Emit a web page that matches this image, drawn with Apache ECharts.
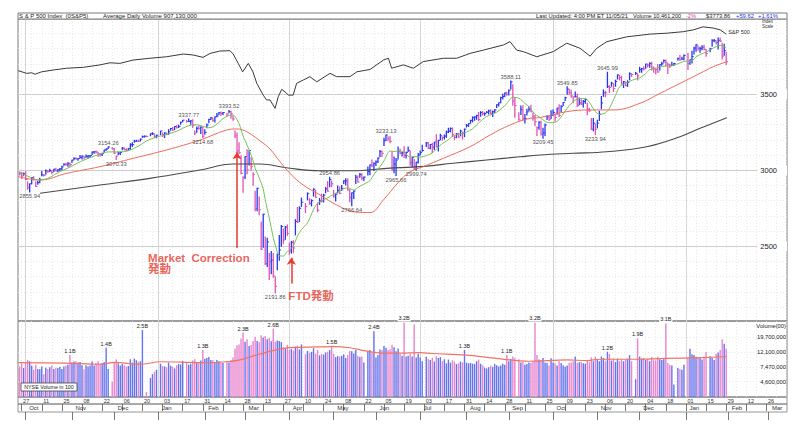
<!DOCTYPE html>
<html><head><meta charset="utf-8">
<script src="https://cdn.jsdelivr.net/npm/echarts@6/dist/echarts.min.js"></script>
<style>html,body{margin:0;padding:0;background:#fff}#c{width:800px;height:431px}</style>
</head><body><div id="c"></div>
<script>
// ---- daily bars, one entry per weekday slot from 2019-09-26 (slot -1); null = market holiday ----
const FIRST_SLOT = -1;
const hi = [
 2989,2987,2983,
 2992,2924,2911,2953,2959,2926,2929,2948,2993,2973,3003,2997,3008,3000,3007,3014,3005,3012,3027,3044,3047,3050,3047,
 3066,3084,3083,3078,3098,3094,3088,3102,3098,3098,3121,3124,3128,3119,3112,3113,3133,3142,3154.26,null,3150,
 3144,3094,3120,3119,3150,3148,3142,3143,3176,3182,3198,3198,3199,3206,3226,3227,3226,null,3240,3248,3240,3231,
 null,3258,3246,3247,3245,3268,3275,3283,3288,3295,3298,3317,3329,null,3329,3337.77,3326,3334,3259,3285,3293,3285,3282,
 3268,3306,3337,3347,3341,3352,3375,3381,3385,3381,null,3375,3393.52,3389,3360,3259,3246,3182,3097,2959,
 3090,3136,3130,3083,2985,2863,2882,2825,2660,2711,2562,2553,2453,2466,2453,2300,2450,2571,2637,2615,2631,2641,
 2522,2533,2538,2676,2756,2760,2818,null,2782,2852,2815,2807,2879,2868,2785,2815,2844,2842,2887,2926,2954.86,2930,
 2869,2844,2898,2891,2901,2932,2945,2945,2875,2852,2865,2968,2964,2980,2978,2956,null,3022,3036,3068,3050,
 3062,3081,3131,3128,3211,3233.13,3222,3223,3123,3088,3079,3154,3141,3120,3155,3120,3154,3128,3084,3073,3053,3111,
 3128,3165,null,3183,3184,3171,3179,3186,3235,3199,3238,3220,3233,3258,3277,3279,3279,3227,3242,3243,3264,3250,3272,
 3302,3307,3330,3351,3352,3363,3381,3387,3387,3378,3387,3395,3399,3390,3399,3432,3444,3481,3501,3509,3514,
 3529,3588.11,3564,3479,null,3379,3424,3425,3368,3402,3419,3428,3376,3362,3285,3320,3323,3278,3306,3360,3357,3393,
 3397,3369,3409,3432,3426,3447,3482,3549.85,3534,3527,3485,3515,3502,3476,3465,3460,3466,3441,3409,3342,3342,3305,
 3330,3389,3486,3529,3521,3645.99,3557,3580,3569,3593,3628,3624,3619,3585,3582,3590,3642,3635,null,3644,3634,
 3678,3670,3682,3699,3698,3708,3712,3681,3665,3697,3695,3711,3726,3726,3703,3698,3711,3703,null,3740,3756,3744,3760,
 null,3770,3726,3784,3811,3826,3819,3810,3820,3823,3796,null,3804,3859,3861,3852,3871,3871,3837,3830,3778
];
const lo = [
 2969,2945,2967,
 2938,2874,2855.94,2911,2935,2892,2907,2917,2963,2962,2973,2986,2991,2976,2992,2995,2991,2998,3001,3033,3032,3026,3023,
 3051,3068,3072,3065,3080,3074,3074,3085,3078,3083,3104,3112,3113,3091,3094,3097,3117,3131,3143,null,3139,
 3110,3070.33,3102,3103,3134,3135,3126,3133,3138,3156,3184,3191,3191,3192,3216,3218,3220,null,3227,3235,3216,3213,
 null,3235,3222,3215,3233,3236,3263,3262,3268,3277,3281,3303,3319,null,3316,3320,3302,3281,3235,3250,3271,3242,3214.68,
 3236,3280,3313,3334,3322,3317,3352,3366,3360,3366,null,3355,3378,3341,3328,3214,3118,3108,2977,2855,
 2945,2976,3035,2999,2901,2734,2734,2707,2478,2493,2380,2367,2281,2319,2295,2191.86,2345,2407,2500,2520,2545,2571,
 2447,2455,2460,2574,2657,2663,2762,null,2721,2805,2776,2765,2830,2821,2727,2775,2791,2791,2852,2862,2891,2892,
 2822,2798,2852,2847,2867,2913,2903,2869,2793,2766.64,2814,2913,2922,2953,2938,2933,null,2969,2970,3023,2998,
 3031,3051,3090,3090,3163,3196,3193,3181,2999,2984,2965.66,3074,3108,3094,3083,3080,3123,3033,3024,3005,2999.74,3047,
 3101,3124,null,3156,3142,3141,3116,3136,3152,3127,3200,3198,3205,3216,3247,3253,3222,3200,3214,3216,3226,3205,3220,
 3284,3288,3310,3318,3328,3335,3326,3355,3363,3361,3379,3370,3369,3354,3379,3413,3422,3444,3468,3485,3493,
 3494,3535,3427,3349,null,3329,3367,3329,3310,3363,3389,3384,3328,3293,3229,3270,3232,3209.45,3228,3333,3327,3340,
 3361,3323,3368,3354,3384,3426,3458,3499,3500,3480,3443,3483,3419,3431,3433,3415,3440,3364,3388,3268,3259,3233.94,
 3279,3327,3405,3486,3484,3544,3511,3553,3518,3552,3600,3594,3567,3544,3556,3552,3595,3617,null,3630,3594,
 3645,3645,3661,3670,3679,3678,3660,3645,3633,3645,3659,3691,3710,3685,3636,3676,3689,3689,null,3723,3723,3730,3726,
 null,3663,3697,3705,3764,3783,3789,3776,3792,3792,3750,null,3780,3816,3845,3831,3797,3847,3732,3756,3694
];
const cl = [
 2977,2962,2977,
 2940,2888,2911,2952,2939,2893,2919,2938,2970,2966,2996,2990,2998,2986,3007,2996,3004,3010,3023,3039,3037,3047,3038,
 3067,3078,3075,3077,3085,3093,3087,3092,3094,3097,3120,3122,3120,3108,3103,3110,3134,3140,3154,null,3141,
 3114,3093,3113,3117,3146,3136,3132,3142,3169,3169,3191,3192,3191,3205,3221,3224,3223,null,3240,3240,3221,3231,
 null,3258,3235,3246,3237,3253,3275,3265,3288,3283,3289,3317,3330,null,3321,3322,3325,3295,3244,3276,3273,3284,3225,
 3249,3298,3335,3346,3328,3352,3358,3379,3374,3380,null,3370,3386,3373,3338,3226,3128,3116,2979,2954,
 3090,3003,3130,3024,2972,2747,2882,2741,2481,2711,2386,2529,2398,2409,2305,2237,2447,2476,2630,2541,2627,2585,
 2470,2527,2489,2664,2659,2750,2790,null,2762,2846,2783,2800,2875,2823,2737,2799,2798,2837,2878,2863,2940,2912,
 2831,2843,2868,2848,2881,2930,2930,2870,2820,2852,2864,2954,2923,2972,2948,2955,null,2992,3036,3030,3044,
 3056,3081,3123,3112,3194,3232,3207,3190,3002,3041,3067,3125,3113,3115,3098,3118,3131,3050,3084,3009,3053,3100,
 3116,3130,null,3180,3145,3170,3152,3185,3155,3197,3227,3216,3225,3252,3257,3276,3236,3216,3239,3218,3258,3246,3271,
 3295,3306,3328,3349,3351,3360,3334,3380,3373,3373,3382,3390,3375,3385,3397,3431,3444,3479,3485,3508,3500,
 3527,3581,3455,3427,null,3332,3399,3339,3341,3384,3401,3385,3357,3320,3281,3316,3237,3247,3298,3352,3335,3363,
 3381,3348,3409,3361,3419,3447,3477,3534,3512,3489,3483,3484,3427,3443,3436,3453,3465,3401,3391,3271,3310,3270,
 3310,3369,3443,3510,3509,3550,3545,3573,3537,3585,3627,3610,3568,3582,3557,3578,3635,3630,null,3638,3622,
 3662,3669,3667,3699,3692,3702,3673,3668,3663,3647,3695,3701,3722,3709,3695,3687,3690,3703,null,3735,3727,3732,3756,
 null,3701,3727,3748,3804,3825,3800,3801,3810,3795,3768,null,3799,3852,3853,3841,3855,3850,3751,3787,3714
];
// NYSE volume, in millions of "hundreds" (axis unit = 100 shares)
const vol = [
 7.6,8.4,7.2,
 8.6,9.4,9.0,7.8,6.8,8.0,7.0,6.9,7.6,5.9,7.3,7.0,7.4,7.8,7.0,7.3,7.2,7.5,7.0,7.6,7.8,8.0,11.0,
 8.6,8.9,9.0,8.6,8.8,7.9,6.9,7.9,7.6,7.8,8.9,7.8,8.4,9.0,8.3,8.5,8.8,14.0,7.0,null,4.6,
 8.7,9.5,8.4,7.8,8.2,7.9,7.6,7.7,9.6,8.6,9.8,9.3,8.8,9.0,25.0,2.8,3.3,null,5.2,5.9,6.4,6.8,
 null,8.3,7.7,7.6,7.4,8.6,7.8,7.5,7.1,7.9,8.2,8.1,9.1,null,8.7,8.0,8.3,9.2,9.6,8.5,8.4,9.2,13.0,
 9.8,10.0,10.3,9.4,9.3,8.7,9.4,9.0,8.7,8.5,null,8.9,8.6,9.3,10.2,13.5,15.2,15.6,18.9,23.0,
 17.0,18.5,14.8,15.3,17.5,20.0,17.5,16.8,21.0,19.5,20.5,18.5,19.4,17.3,26.0,17.0,17.8,17.5,16.8,14.3,13.6,15.4,
 13.0,13.5,12.8,14.5,15.0,13.2,15.6,null,11.3,12.6,11.8,12.2,13.8,11.5,13.0,10.9,11.4,11.2,12.0,12.3,13.0,15.0,
 11.5,10.3,10.6,10.5,10.8,11.3,10.0,11.0,12.6,12.5,11.6,13.0,10.8,10.3,10.5,8.6,null,12.5,13.0,12.0,24.0,
 10.2,11.0,13.2,13.0,14.8,14.0,13.0,13.3,15.5,14.2,12.5,13.6,11.5,10.8,32.0,10.5,10.8,11.5,10.5,30.0,10.2,11.5,
 10.2,9.0,null,10.4,9.6,9.4,10.1,8.9,10.6,10.0,10.3,9.1,9.6,8.4,9.5,8.6,9.3,8.9,8.2,8.4,8.9,8.7,13.0,
 8.6,8.4,8.5,8.3,8.2,9.0,9.5,8.3,7.9,7.3,7.1,7.4,7.8,7.5,8.2,7.9,7.6,7.8,8.3,8.0,11.0,
 9.0,9.7,10.5,10.0,null,9.6,8.6,8.8,8.0,8.2,8.6,8.5,8.9,32.0,11.0,9.5,9.4,10.0,8.6,8.5,7.8,9.9,
 8.6,8.4,7.8,9.0,8.5,7.9,7.5,7.8,8.5,8.6,9.0,10.5,8.5,8.7,8.8,8.4,8.3,9.2,8.7,10.2,9.0,10.5,
 9.6,9.0,10.5,10.0,9.0,12.3,11.4,9.2,9.8,8.8,9.8,9.0,9.6,9.0,9.5,9.8,11.0,9.0,null,5.0,19.0,
 10.5,9.8,10.0,9.4,9.7,9.0,10.3,9.3,9.2,10.4,9.6,9.4,9.6,31.0,8.5,8.0,7.8,4.2,null,7.2,7.0,6.8,8.0,
 null,10.2,13.5,11.3,11.0,10.4,10.0,10.3,9.5,10.4,12.2,null,10.6,10.0,9.4,11.5,12.0,13.0,18.5,16.0,13.5
];
const volMarkSlots = [24,42,60,90,110,125,154,175,190,220,241,255,291,306,320];

// ---- lines: [slot, value] ----
const ma10 = [[-1.7,2991],[5,2950],[8,2936],[13,2947],[18,2985],[23,3015],[28,3049],[33,3079],[38,3102],[43,3121],[48,3121],[53,3129],[58,3159],[62,3193],[67,3219],[72,3236],[77,3257],[83,3294],[87,3300],[90,3290],[93,3280],[95,3286],[98,3315],[100,3340],[103,3361],[105,3364],[106,3354],[108,3307],[110,3225],[111,3196],[113,3134],[115,3062],[116,3014],[118,2952],[120,2878],[121,2808],[123,2687],[125,2559],[126,2508],[128,2438],[130,2436],[132,2466],[133,2473],[135,2503],[137,2567],[139,2610],[142,2654],[145,2742],[147,2783],[150,2806],[152,2819],[155,2842],[157,2857],[160,2879],[162,2885],[165,2871],[167,2887],[170,2909],[173,2932],[175,2972],[178,3024],[180,3062],[183,3127],[185,3124],[188,3128],[190,3119],[193,3086],[195,3091],[198,3087],[201,3097],[204,3114],[206,3139],[209,3176],[211,3192],[214,3223],[216,3234],[219,3242],[221,3251],[224,3273],[226,3298],[229,3335],[231,3354],[234,3370],[236,3382],[239,3414],[241,3439],[244,3481],[247,3474],[250,3441],[252,3419],[255,3369],[257,3352],[260,3323],[262,3313],[265,3316],[267,3333],[270,3389],[272,3425],[275,3462],[277,3472],[280,3473],[282,3447],[285,3387],[287,3368],[290,3378],[292,3409],[295,3493],[297,3549],[300,3573],[302,3585],[305,3601],[307,3608],[310,3636],[312,3662],[315,3672],[317,3678],[320,3687],[322,3686],[324,3691],[327,3706],[329,3716],[333,3721],[335,3746],[337,3762],[340,3778],[343,3800],[345,3814],[347,3822],[350,3807]];
const ma50 = [[-1.7,2958],[9.1,2936],[22.4,2980],[38.9,3024],[55.5,3079],[72,3134],[88.6,3199],[101.9,3265],[106.8,3272],[111.8,3254],[120,3178],[123.4,3140],[128.3,3057],[133.3,2980],[139.9,2903],[148.2,2838],[156.5,2772],[165.6,2726],[173.1,2722],[179.7,2805],[187.1,2920],[193,2991],[199.5,3024],[209.5,3079],[222.7,3155],[232.7,3232],[242.6,3298],[252.6,3342],[257.5,3347],[270.8,3386],[282.4,3397],[294,3397],[307.2,3441],[317.2,3507],[327.1,3572],[337,3638],[343.6,3682],[350.3,3714]];
const ma200 = [[9.1,2849],[38.9,2903],[63.7,2947],[88.6,3002],[105,3041],[118.4,3041],[133.3,3013],[148.2,2997],[164.6,2997],[181.4,3013],[197.9,3024],[214.3,3046],[231,3068],[247.6,3089],[257.5,3101],[273.9,3112],[290.7,3122],[310.5,3155],[327.1,3221],[337,3276],[350.3,3346]];
const rsLine = [[-1.7,82.9],[2.5,82.0],[5,82.2],[6.6,81.7],[9.9,82.5],[15.6,83.1],[22.4,83.7],[30.6,84.0],[38.9,84.8],[43.9,85.5],[48.8,85.3],[55.3,86.4],[63.7,87.0],[72,87.5],[80.3,88.4],[85.1,88.1],[90.1,87.3],[93.6,88.6],[98.5,89.4],[103.5,89.5],[105.1,88.4],[107.6,85.3],[109.8,82.5],[112.6,85.3],[114.9,82.5],[116.8,78.7],[120,74.8],[121.7,73.2],[123.4,73.2],[125.9,70.4],[127.5,74.3],[129.2,76.7],[130.8,75.9],[132.5,74.8],[134.9,74.8],[136.6,78.7],[139.9,79.8],[143.2,80.9],[146.6,79.2],[153.2,82.0],[156.5,80.9],[163.1,80.9],[166.5,82.5],[173.1,83.3],[179.7,86.4],[182.2,87.0],[183.8,83.7],[189.6,84.8],[194.6,83.7],[199.5,85.9],[209.5,87.0],[216.1,87.0],[222.7,88.6],[229.4,89.7],[239.3,91.4],[242.6,92.5],[245.9,89.7],[249.2,89.2],[255.9,87.5],[264.1,89.2],[270.8,92.0],[277.4,90.3],[282.4,87.7],[285.7,90.3],[290.7,92.5],[300.6,94.1],[312.2,95.0],[320.5,95.3],[328.7,95.8],[333.7,96.4],[338.5,97.4],[343.5,97.0],[347,96.4],[350,95.0]];
const volMA = [[-1.7,8.6],[22,8.45],[39,8.15],[46,8.65],[59,8.15],[69,8.85],[89,8.6],[102,8.85],[108.5,9.4],[118,11.3],[130,13.7],[138,14.2],[155,14.5],[163,14.0],[171,12.6],[180,11.7],[188,11.7],[198,11.9],[204,11.6],[221,11.0],[238,9.7],[252,9.0],[271,9.4],[281,9.2],[287,9.6],[304,9.6],[320,9.9],[337,10.1],[350,10.5]];

// pivot labels: [slot, price, side]
const pivots = [[4,2855.94,'bottom'],[43,3154.26,'top'],[47,3070.33,'bottom'],[83,3337.77,'top'],[90,3214.68,'bottom'],[103,3393.52,'top'],[126,2191.86,'bottom'],[153,2954.86,'top'],[164,2766.64,'bottom'],[181,3233.13,'top'],[186,2965.66,'bottom'],[196,2999.74,'bottom'],[243,3588.11,'top'],[259,3209.45,'bottom'],[271,3549.85,'top'],[285,3233.94,'bottom'],[291,3645.99,'top']];
// annotation texts: [slot, price (top-left anchor), text]
const notes = [[62.8,2464,'Market  Correction'],[62.8,2386,'発動'],[132.5,2212,'FTD発動']];
// arrows: [slot, from price, to price]
const arrows = [[107,2489,3118],[134,2255,2425]];

// ---- axis ticks / labels ----
const priceTicks = [2500,3000,3500];
const priceMinor = [2100,2200,2300,2400,2600,2700,2800,2900,3100,3200,3300,3400,3600,3700,3800,3900];
const volTicks = [4.6,7.47,12.1,19.7];
const volTickLabels = ['4,600,000','7,470,000','12,100,000','19,700,000'];
const dateLabels = ['27','11','25','08','22','06','20','03','17','31','14','28','13','27','10','24','08','22','05','19','03','17','31','14','28','11','25','09','23','06','20','04','18','01','15','29','12','26'];
const monthSlots = [2,25,46,68,91,111,133,155,176,198,221,242,264,286,307,330,351,371];
const monthNames = ['Oct','Nov','Dec','Jan','Feb','Mar','Apr','May','Jun','Jul','Aug','Sep','Oct','Nov','Dec','Jan','Feb','Mar'];
const quarterSlots = [2,68,133,198,264,330];

const P_MIN = 2008.6, P_MAX = 3995.4, V_MIN = 2.79, V_MAX = 33.6, X_MIN = -1.8, X_MAX = 380.2;
const BAR_UP = '#2536ee', BAR_DN = '#e052b4', VOL_UP = '#6474ec', VOL_DN = '#e985cd';
const FONT = 'Liberation Sans, Arial, sans-serif';

const dateSlots = dateLabels.map((_, k) => k * 10);
const weekSlots = Array.from({length: 77}, (_, k) => k * 5);

const priceData = [], volData = [];
let prev = null;
for (let i = 0; i < cl.length; i++) {
  if (cl[i] == null) continue;
  const slot = i + FIRST_SLOT;
  const up = prev != null && cl[i] >= prev ? 1 : 0;
  prev = cl[i];
  priceData.push([slot, lo[i], hi[i], cl[i], up]);
  const item = {value: [slot, vol[i]], itemStyle: {color: up ? VOL_UP : VOL_DN}};
  if (volMarkSlots.indexOf(slot) >= 0) {
    item.label = {show: true, position: 'top', distance: 1, formatter: (vol[i] / 10).toFixed(1) + 'B',
      fontSize: 5.5, color: '#222', fontFamily: FONT, backgroundColor: '#fff', padding: [0, 1]};
  }
  volData.push(item);
}

function xAx(grid, extra) {
  return Object.assign({type: 'value', gridIndex: grid, min: X_MIN, max: X_MAX,
    axisLine: {show: false}, axisTick: {show: false}, axisLabel: {show: false}, splitLine: {show: false}}, extra);
}
const qLines = {axisTick: {show: false, customValues: quarterSlots}, splitLine: {show: true, lineStyle: {color: '#d4d4d4', width: 1}}};
const wLines = {axisTick: {show: false, customValues: weekSlots}, splitLine: {show: true, lineStyle: {color: '#e3e3e3', width: 0.8, type: [1, 2]}}};

const chart = echarts.init(document.getElementById('c'), null, {renderer: 'svg'});
chart.setOption({
  animation: false,
  backgroundColor: '#fff',
  textStyle: {fontFamily: FONT},
  grid: [
    {left: 18, right: 13, top: 19, height: 302, show: true, borderColor: '#7a7a7a', borderWidth: 1, outerBoundsMode: 'none'},
    {left: 18, right: 13, top: 321, height: 76, show: true, borderColor: '#7a7a7a', borderWidth: 1, outerBoundsMode: 'none'},
    {left: 18, right: 13, top: 397, height: 7, show: true, borderColor: '#7a7a7a', borderWidth: 0.8, outerBoundsMode: 'none'},
    {left: 18, right: 13, top: 404, height: 8, show: true, borderColor: '#7a7a7a', borderWidth: 0.8, outerBoundsMode: 'none'}
  ],
  xAxis: [
    xAx(0, qLines), xAx(0, wLines), xAx(1, qLines), xAx(1, wLines),
    xAx(2, {position: 'top',
      axisTick: {show: true, inside: true, length: 7, customValues: dateSlots, lineStyle: {color: '#555', width: 0.8}},
      axisLabel: {show: true, inside: true, customValues: dateSlots, margin: 1, align: 'left', verticalAlign: 'top',
        padding: [0, 0, 0, 1.5], fontSize: 5.5, color: '#333', fontFamily: FONT,
        formatter: v => dateLabels[Math.round(v / 10)] || ''}}),
    xAx(3, {position: 'top',
      axisTick: {show: true, inside: true, length: 8, customValues: monthSlots, lineStyle: {color: '#555', width: 0.8}},
      axisLabel: {show: true, inside: true, customValues: monthSlots, margin: 1, align: 'left', verticalAlign: 'top',
        padding: [0, 0, 0, 3.5], fontSize: 6, color: '#333', fontFamily: FONT,
        formatter: v => monthNames[monthSlots.indexOf(Math.round(v))] || ''}})
  ],
  yAxis: [
    {type: 'value', gridIndex: 0, position: 'right', min: P_MIN, max: P_MAX, axisLine: {show: false},
      axisTick: {show: false, customValues: priceTicks},
      axisLabel: {show: true, inside: true, customValues: priceTicks, margin: 0, fontSize: 7.5, color: '#222',
        fontFamily: FONT, backgroundColor: '#fff', padding: [1, 10, 1, 3], formatter: v => String(Math.round(v))},
      splitLine: {show: true, lineStyle: {color: '#cdcdcd', width: 1}}},
    {type: 'value', gridIndex: 0, position: 'right', min: P_MIN, max: P_MAX, axisLine: {show: false},
      axisTick: {show: false, customValues: priceMinor}, axisLabel: {show: false},
      splitLine: {show: true, lineStyle: {color: '#e3e3e3', width: 0.8, type: [1, 2]}}},
    {type: 'value', gridIndex: 0, min: 0, max: 100, show: false, splitLine: {show: false}},
    {type: 'log', logBase: 10, gridIndex: 1, position: 'right', min: V_MIN, max: V_MAX, startValue: V_MIN,
      axisLine: {show: false}, axisTick: {show: false, customValues: volTicks},
      axisLabel: {show: true, inside: true, customValues: volTicks, margin: 1, fontSize: 5.8, color: '#222', fontFamily: FONT,
        formatter: v => { let k = 0, b = Infinity; volTicks.forEach((t, i) => { const d = Math.abs(t - v); if (d < b) { b = d; k = i; } }); return volTickLabels[k]; }},
      splitLine: {show: true, lineStyle: {color: '#e3e3e3', width: 0.8, type: [1, 2]}}},
    {type: 'value', gridIndex: 2, min: 0, max: 1, show: false, splitLine: {show: false}},
    {type: 'value', gridIndex: 3, min: 0, max: 1, show: false, splitLine: {show: false}}
  ],
  series: [
    {type: 'custom', name: 'bars', xAxisIndex: 0, yAxisIndex: 0, clip: true, data: priceData,
      encode: {x: 0, y: [1, 2]},
      renderItem: (params, api) => {
        const x = api.value(0);
        const pL = api.coord([x, api.value(1)]), pH = api.coord([x, api.value(2)]), pC = api.coord([x, api.value(3)]);
        const col = api.value(4) ? BAR_UP : BAR_DN;
        return {type: 'group', children: [
          {type: 'line', shape: {x1: pL[0], y1: pL[1] + 0.4, x2: pH[0], y2: pH[1] - 0.4}, style: {stroke: col, lineWidth: 1.3}},
          {type: 'line', shape: {x1: pC[0], y1: pC[1], x2: pC[0] + 1.8, y2: pC[1]}, style: {stroke: col, lineWidth: 1}}
        ]};
      }},
    {type: 'line', name: '200', xAxisIndex: 0, yAxisIndex: 0, data: ma200, smooth: 0.4, showSymbol: false, symbol: 'none',
      lineStyle: {color: '#4a4a4a', width: 1.1}, z: 3},
    {type: 'line', name: '50', xAxisIndex: 0, yAxisIndex: 0, data: ma50, smooth: 0.4, showSymbol: false, symbol: 'none',
      lineStyle: {color: '#ef6a5c', width: 1}, z: 3},
    {type: 'line', name: '10', xAxisIndex: 0, yAxisIndex: 0, data: ma10, smooth: 0.3, showSymbol: false, symbol: 'none',
      lineStyle: {color: '#74c05c', width: 1}, z: 3},
    {type: 'line', name: 'rs', xAxisIndex: 0, yAxisIndex: 2, data: rsLine, smooth: false, showSymbol: false, symbol: 'none',
      lineStyle: {color: '#3a3a3a', width: 1}, z: 3,
      endLabel: {show: true, formatter: 'S&P 500', fontSize: 5.5, color: '#333', fontFamily: FONT, distance: 2, offset: [0, -2]}},
    {type: 'scatter', name: 'pivots', xAxisIndex: 0, yAxisIndex: 0, symbolSize: 0, z: 4,
      data: pivots.map(p => ({value: [p[0], p[1]], label: {position: p[2]}})),
      label: {show: true, distance: 1, fontSize: 5.8, color: '#222', fontFamily: FONT, formatter: p => p.value[1].toFixed(2)}},
    {type: 'scatter', name: 'notes', xAxisIndex: 0, yAxisIndex: 0, symbolSize: 0, z: 5,
      data: notes.map(n => ({value: [n[0], n[1]], name: n[2]})),
      label: {show: true, position: [0, 0], align: 'left', verticalAlign: 'top', formatter: '{b}', fontSize: 11.5,
        lineHeight: 11.5, fontWeight: 'bold', color: '#e53a2e', fontFamily: 'Liberation Sans, Noto Sans CJK JP, sans-serif'},
      markLine: {silent: true, symbol: ['none', 'arrow'], symbolSize: 7, label: {show: false},
        lineStyle: {color: '#e53a2e', width: 1.5, type: 'solid'},
        data: arrows.map(a => [{coord: [a[0], a[1]]}, {coord: [a[0], a[2]]}])}},
    {type: 'bar', name: 'vol', xAxisIndex: 2, yAxisIndex: 3, barWidth: 1.4, clip: true, data: volData},
    {type: 'line', name: 'volMA', xAxisIndex: 2, yAxisIndex: 3, data: volMA, smooth: 0.4, showSymbol: false, symbol: 'none',
      lineStyle: {color: '#ef7466', width: 1.2}, z: 3}
  ],
  graphic: {elements: [
    {type: 'rect', z: 100, shape: {x: 18, y: 13, width: 769, height: 6}, style: {fill: '#fff', stroke: '#7a7a7a', lineWidth: 1}},
    {type: 'text', z: 101, x: 19, y: 16.2, style: {text: 'S & P 500 Index  (0S&P5)', fontSize: 6, fontFamily: FONT, fill: '#222', verticalAlign: 'middle'}},
    {type: 'text', z: 101, x: 103, y: 16.2, style: {text: 'Average Daily Volume 907,130,000', fontSize: 6, fontFamily: FONT, fill: '#222', verticalAlign: 'middle'}},
    {type: 'text', z: 101, x: 536, y: 16.2, style: {text: 'Last Updated: 4:00 PM ET 11/05/21', fontSize: 5.8, fontFamily: FONT, fill: '#222', verticalAlign: 'middle'}},
    {type: 'text', z: 101, x: 633, y: 16.2, style: {text: 'Volume 10,461,200', fontSize: 5.6, fontFamily: FONT, fill: '#222', verticalAlign: 'middle'}},
    {type: 'text', z: 101, x: 686, y: 16.2, style: {text: '-2%', fontSize: 5.6, fontFamily: FONT, fill: '#e040a8', verticalAlign: 'middle'}},
    {type: 'text', z: 101, x: 706, y: 16.2, style: {text: '$3773.86', fontSize: 5.8, fontFamily: FONT, fill: '#222', verticalAlign: 'middle'}},
    {type: 'text', z: 101, x: 736, y: 16.2, style: {text: '+59.62', fontSize: 5.8, fontFamily: FONT, fill: '#2233ee', verticalAlign: 'middle'}},
    {type: 'text', z: 101, x: 758, y: 16.2, style: {text: '+1.61%', fontSize: 5.8, fontFamily: FONT, fill: '#2233ee', verticalAlign: 'middle'}},
    {type: 'text', z: 101, x: 762, y: 21.5, style: {text: 'Index', fontSize: 4.5, fontFamily: FONT, fill: '#333', verticalAlign: 'middle'}},
    {type: 'text', z: 101, x: 762, y: 26, style: {text: 'Scale', fontSize: 4.5, fontFamily: FONT, fill: '#333', verticalAlign: 'middle'}},
    {type: 'text', z: 101, x: 786, y: 326, style: {text: 'Volume(00)', fontSize: 5.8, fontFamily: FONT, fill: '#222', align: 'right', verticalAlign: 'middle'}},
    {type: 'rect', z: 100, shape: {x: 21, y: 383, width: 56, height: 8}, style: {fill: '#fff', stroke: '#444', lineWidth: 0.8}},
    {type: 'text', z: 101, x: 49, y: 387, style: {text: 'NYSE Volume in 100', fontSize: 5.3, fontFamily: FONT, fill: '#222', align: 'center', verticalAlign: 'middle'}}
  ]}
});
</script></body></html>
